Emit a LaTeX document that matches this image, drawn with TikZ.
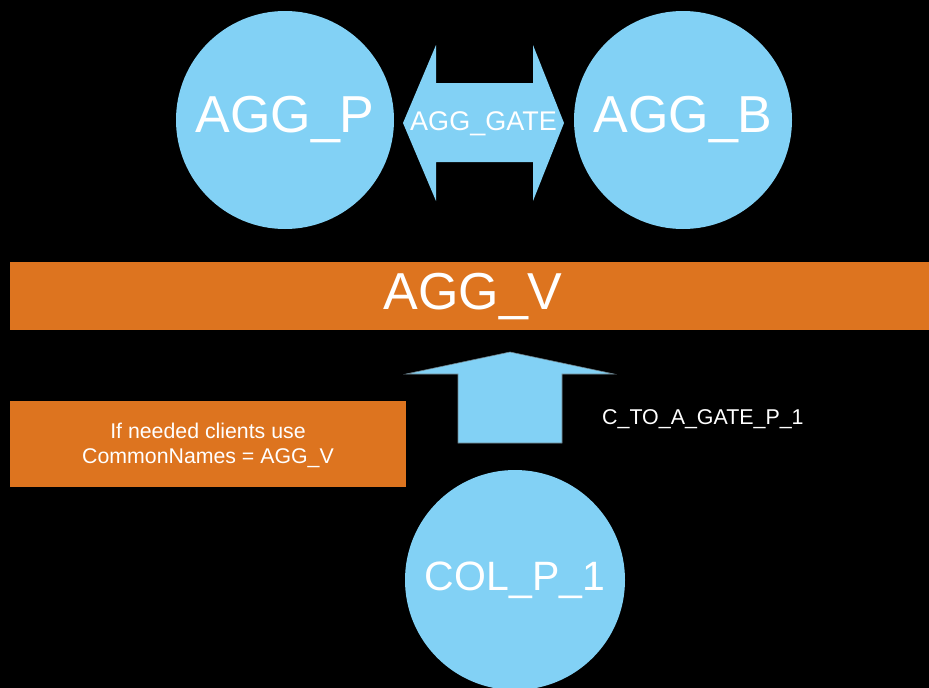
\documentclass[tikz,border=0pt]{standalone}
\usepackage{fontspec}
\setmainfont{Liberation Sans}
\definecolor{skyb}{RGB}{130,209,245}
\definecolor{orng}{RGB}{221,116,31}
\definecolor{edgegrey}{RGB}{110,130,140}
\begin{document}
\begin{tikzpicture}[x=1pt,y=-1pt,
  circ/.style={circle,fill=skyb,inner sep=0pt,minimum size=218pt,text=white},
  bar/.style={fill=orng,inner sep=0pt,text=white},
  blockarrow/.style={fill=skyb,draw=edgegrey,line width=0.6pt,line join=miter},
  lbl/.style={text=white,inner sep=0pt}]
\fill[black] (0,0) rectangle (929,688);
\useasboundingbox (0,0) rectangle (929,688);
% circles
\node[circ,font=\fontsize{52}{60}\selectfont] (aggp) at (285,120) {AGG\_P};
\node[circ,font=\fontsize{52}{60}\selectfont] (aggb) at (683,120) {AGG\_B};
\node[circ,minimum size=220pt,font=\fontsize{41}{48}\selectfont] (colp) at (515,580) {COL\_P\_1};
% double arrow
\fill[skyb] (403,123) -- (436,45) -- (436,83) -- (533,83) -- (533,45) -- (564,123)
  -- (533,201) -- (533,162) -- (436,162) -- (436,201) -- cycle;
\node[lbl,font=\fontsize{27}{31}\selectfont] (gate) at (483.5,124) {AGG\_GATE};
% AGG_V bar
\path[fill=orng] (10,262) rectangle (929,330);
\node[lbl,font=\fontsize{52}{60}\selectfont] (aggv) at (473,297) {AGG\_V};
% up arrow
\path[blockarrow] (510,352) -- (614,374) -- (562,374) -- (562,443) -- (458,443) -- (458,374) -- (406,374) -- cycle;
\node[lbl,anchor=west,font=\fontsize{21.4}{25}\selectfont] (ctoa) at (602,419) {C\_TO\_A\_GATE\_P\_1};
% note box
\path[fill=orng] (10,401) rectangle (406,487);
\node[lbl,align=center,font=\fontsize{21.3}{25}\selectfont] (note) at (208,445) {If needed clients use\\CommonNames = AGG\_V};
\end{tikzpicture}
\end{document}
